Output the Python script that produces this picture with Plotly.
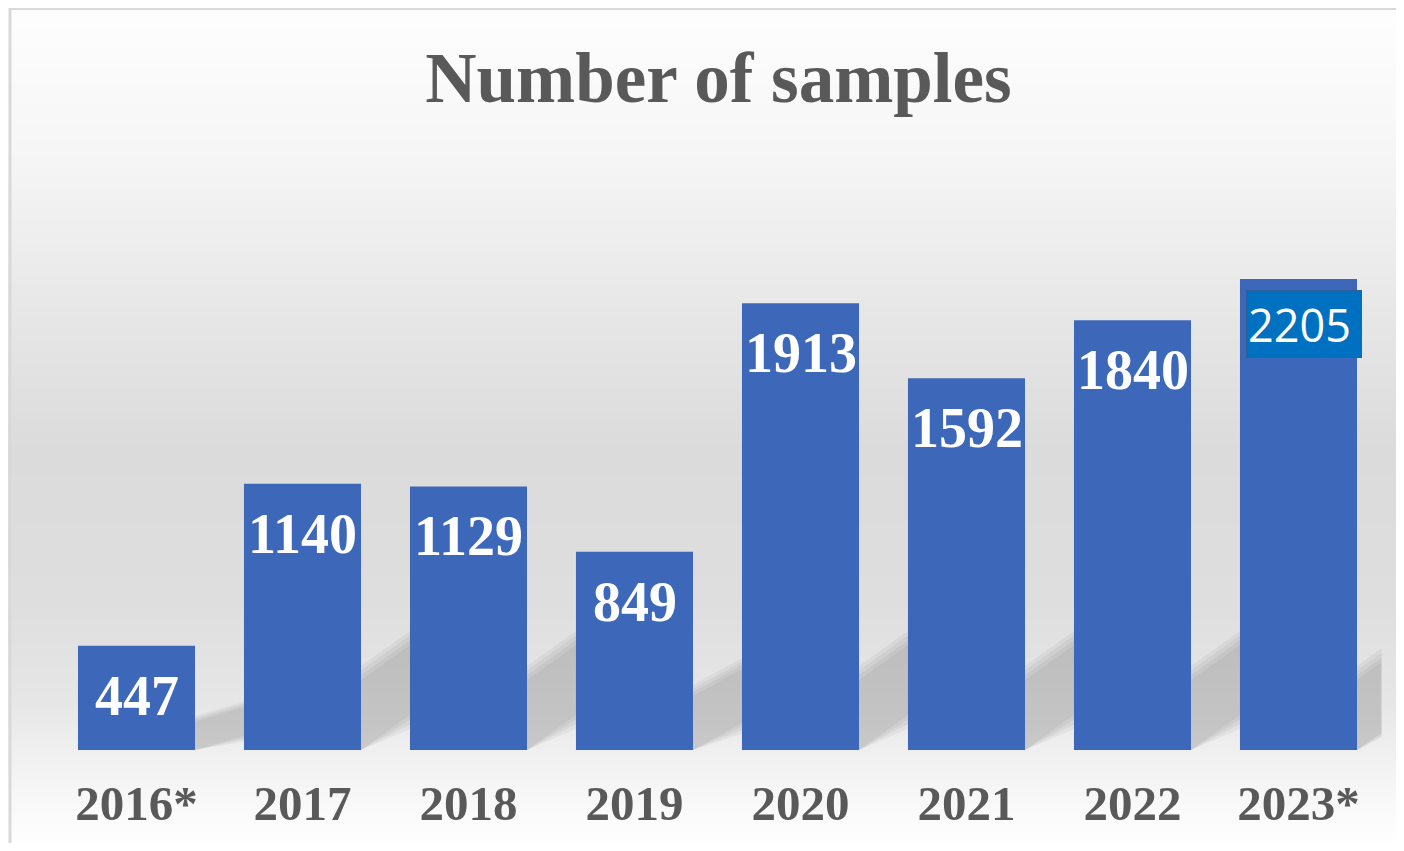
"""
Number of samples - bar chart (Excel style, gradient background)
"""

import plotly.graph_objects as go

# 資料
years = ['2016*', '2017', '2018', '2019', '2020', '2021', '2022', '2023*']
bar_heights = [447, 1140, 1129, 849, 1913, 1592, 1840, 2017]   # heights as drawn
value_labels = ['447', '1140', '1129', '849', '1913', '1592', '1840', '2205']
boxed_label = '2023*'   # label drawn in a separate blue text box

# background gradient (pixel row from top, gray level)
bg_rows = [0, 150, 300, 450, 600, 700, 760, 820, 851]
bg_levels = [254, 246, 232, 219, 222, 230, 241, 251, 255]

COLORS = {
    'bar': '#3d68b9',
    'title': '#595959',
    'tick': '#595959',
    'box': '#0070c0',
    'box_line': '#2f5f9a',
    'frame': '#d9d9d9',
    'shadow': 'rgba(60,60,60,0.06)',
}

# page body has an 8px margin, so the figure is drawn 8px in from the window corner
PAD = 8
W, H = 1404 - 2 * PAD, 851 - 2 * PAD
SERIF = 'Liberation Serif, Times New Roman, serif'

BAR_WIDTH = 0.705
pos = list(range(len(years)))
half_bar = BAR_WIDTH / 2

fig = go.Figure()

# 背景漸層 (full-paper heatmap on the first subplot)
fig.add_trace(go.Heatmap(
    x=[0, W],
    y=[r - PAD for r in bg_rows],
    z=[[v, v] for v in bg_levels],
    colorscale=[[0, 'black'], [1, 'white']],
    zmin=0, zmax=255,
    zsmooth='best',
    showscale=False,
    hoverinfo='skip',
    xaxis='x', yaxis='y'
))

# soft perspective shadow in the gap right of each bar (stacked translucent layers)
for i, h in zip(pos, bar_heights):
    k = min(1.0, h / 1100)
    x0 = i + half_bar
    x1 = i + 1 - half_bar if i < len(pos) - 1 else x0 + 0.4
    span = (x1 - x0) / (1 - BAR_WIDTH)
    rise = 150 * k * span
    band = 300 * k
    for grow in (60, 40, 20, 0):
        g = grow * k
        fig.add_trace(go.Scatter(
            x=[x0, x1, x1, x0, x0],
            y=[0, max(rise - g, 0), rise + band + g, band + g, 0],
            mode='lines', fill='toself',
            fillcolor=COLORS['shadow'], line=dict(width=0),
            hoverinfo='skip', xaxis='x2', yaxis='y2'
        ))

fig.add_trace(go.Bar(
    x=pos,
    y=bar_heights,
    width=BAR_WIDTH,
    marker=dict(color=COLORS['bar'], line=dict(width=0)),
    hoverinfo='skip',
    xaxis='x2', yaxis='y2'
))

# bar value labels
for i, (yr, h, txt) in enumerate(zip(years, bar_heights, value_labels)):
    if yr == boxed_label:
        fig.add_annotation(
            x=i, y=h, xref='x2', yref='y2', text=txt,
            showarrow=False, yanchor='middle', yshift=-45, xshift=5,
            font=dict(family='Open Sans, Noto Sans, sans-serif', size=45, color='white'),
            bgcolor=COLORS['box'], bordercolor=COLORS['box_line'], borderwidth=1,
            width=112, height=64, align='left'
        )
    else:
        fig.add_annotation(
            x=i, y=h, xref='x2', yref='y2', text=txt,
            showarrow=False, yanchor='middle', yshift=-50,
            font=dict(family=SERIF, size=56, color='white', weight='bold')
        )

x_dom = [(53.5 - PAD) / W, (1381.5 - PAD) / W]
y_dom = [1 - (750 - PAD) / H, 1 - (166.25 - PAD) / H]

fig.update_layout(
    width=W, height=H,
    margin=dict(l=0, r=0, t=0, b=0),
    paper_bgcolor='white',
    plot_bgcolor='rgba(0,0,0,0)',
    showlegend=False,
    title=dict(
        text='Number of samples',
        x=(718.5 - PAD) / W, xanchor='center',
        y=1 - 69 / H, yanchor='middle',
        font=dict(family=SERIF, size=71, color=COLORS['title'], weight='bold')
    ),
    xaxis=dict(domain=[0, 1], range=[0, W], visible=False, fixedrange=True),
    yaxis=dict(domain=[0, 1], range=[H, 0], visible=False, fixedrange=True),
    xaxis2=dict(
        domain=x_dom, anchor='y2', range=[-0.5, len(years) - 0.5],
        tickmode='array', tickvals=pos, ticktext=years,
        showgrid=False, showline=False, zeroline=False, ticks='',
        ticklabelstandoff=20,
        tickfont=dict(family=SERIF, size=49, color=COLORS['tick'], weight='bold'),
    ),
    yaxis2=dict(
        domain=y_dom, anchor='x2', range=[0, 2500],
        visible=False, showgrid=False, zeroline=False
    ),
    shapes=[
        # 外框 (top and left frame line)
        dict(type='line', xref='paper', yref='paper', x0=(10 - PAD) / W, x1=1,
             y0=1 - 1 / H, y1=1 - 1 / H,
             line=dict(color=COLORS['frame'], width=2)),
        dict(type='line', xref='paper', yref='paper', x0=(10 - PAD) / W, x1=(10 - PAD) / W,
             y0=0, y1=1, line=dict(color=COLORS['frame'], width=3)),
    ]
)

fig.write_html('out.html')
